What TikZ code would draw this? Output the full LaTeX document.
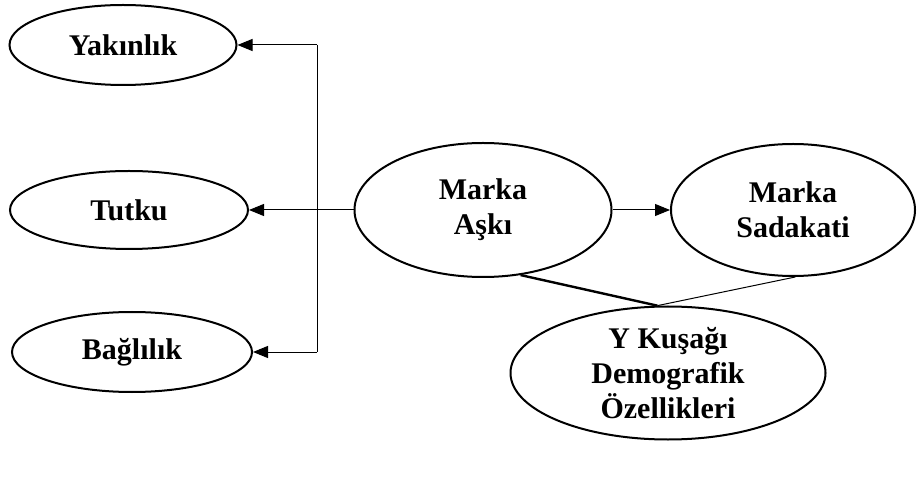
\documentclass[tikz,border=0pt]{standalone}
\usepackage{fontspec}
\setmainfont{Liberation Serif}
\usetikzlibrary{shapes.geometric,arrows.meta}
\pgfdeclarelayer{bg}
\pgfsetlayers{bg,main}
\tikzset{
    every node/.style={ellipse, inner sep=0mm, draw, line width=2pt, align=center,
        font=\fontsize{30}{35}\selectfont\bfseries}
}
\tikzset{arr/.style={line width=1pt, -{Triangle[length=15pt,width=12pt]}}}

\begin{document}
\begin{tikzpicture}[x=1pt, y=1pt]
        \useasboundingbox (0,0) rectangle (917,498);
        \node (yak) [minimum width=227pt, minimum height=80pt] at (123, 453) {Yakınlık};
        \node (tut) [minimum width=238pt, minimum height=78pt] at (129, 288) {Tutku};
        \node (bag) [minimum width=240pt, minimum height=80pt] at (132, 146) {Bağlılık};
        \node (ask) [minimum width=257pt, minimum height=134pt] at (483, 288) {Marka\\Aşkı};
        \node (sad) [minimum width=244pt, minimum height=132pt] at (793, 288) {Marka\\Sadakati};
        \node (ykd) [minimum width=315pt, minimum height=133pt] at (668, 125) {Y Kuşağı\\Demografik\\Özellikleri};
        \coordinate (t) at (317, 453);
        \coordinate (b) at (317, 146);
        \begin{pgfonlayer}{bg}
                \draw [line width=1pt] (t) -- (b);
                \draw [arr] (t) -- (yak.east);
                \draw [arr] (b) -- (bag.east);
                \draw [arr] (ask.west) -- (tut.east);
                \draw [arr] (ask.east) -- (sad.west);
                \draw [line width=2.4pt] (ask.-60) -- (ykd.99);
                \draw [line width=1pt] (ykd.99) -- (sad.-88);
        \end{pgfonlayer}
\end{tikzpicture}
\end{document}
